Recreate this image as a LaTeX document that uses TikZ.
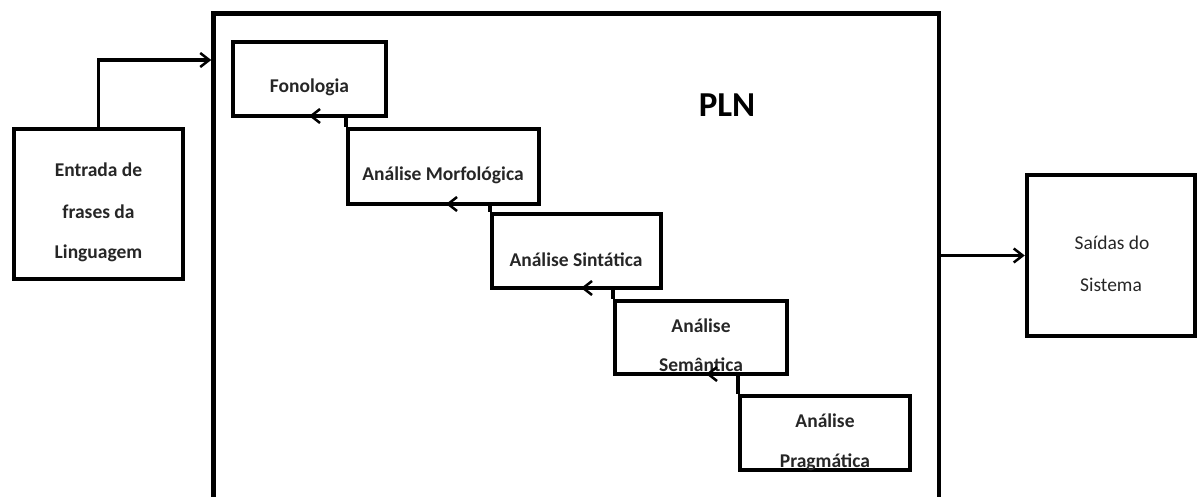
\documentclass[tikz,border=0pt]{standalone}
\usepackage{fontspec}
\setmainfont{Carlito}
\usetikzlibrary{arrows.meta}
\begin{document}
\begin{tikzpicture}[x=1pt,y=-1pt,
  box/.style={draw=black,line width=4.5pt,rectangle,inner sep=0pt,line join=miter},
  lbl/.style={anchor=base,inner sep=0pt,font=\bfseries\fontsize{19.5}{23}\selectfont,text=black!85},
  lblr/.style={anchor=base,inner sep=0pt,font=\fontsize{19.5}{23}\selectfont,text=black!85},
  arr/.style={line width=3.5pt,-{Straight Barb[length=9pt,width=14pt,line width=2.5pt]}}]
\useasboundingbox (0,0) rectangle (1198,497);
\clip (0,0) rectangle (1198,497);
% main PLN frame (open at bottom)
\node[box,minimum width=725.5pt,minimum height=526.5pt] (pln) at (576.25,276.75) {};
\node[anchor=base,inner sep=0pt,font=\bfseries\fontsize{35}{40}\selectfont] (plnT) at (727,117) {PLN};
% boxes
\node[box,minimum width=169pt,minimum height=150pt] (ent) at (98.5,204) {};
\node[box,minimum width=153pt,minimum height=74pt] (fon) at (309.5,79) {};
\node[box,minimum width=191pt,minimum height=75pt] (mor) at (443.5,166.5) {};
\node[box,minimum width=169pt,minimum height=74pt] (sin) at (576.5,251) {};
\node[box,minimum width=172pt,minimum height=73pt] (sem) at (701,337.5) {};
\node[box,minimum width=170pt,minimum height=74pt] (pra) at (825,433) {};
\node[box,minimum width=168pt,minimum height=161pt] (sai) at (1111,255.5) {};
% texts
\node[lbl] (entA) at (98.5,177) {Entrada de};
\node[lbl] (entB) at (98.5,218) {frases da};
\node[lbl] (entC) at (98.5,258) {Linguagem};
\node[lbl] (fonT) at (309.5,93) {Fonologia};
\node[lbl] (morT) at (443,180) {Análise Morfológica};
\node[lbl] (sinT) at (576,266) {Análise Sintática};
\node[lbl] (semA) at (701,332) {Análise};
\node[lbl] (semB) at (701,371) {Semântica};
\node[lbl] (praA) at (825,427) {Análise};
\node[lbl] (praB) at (825,467) {Pragmática};
\node[lblr] (saiA) at (1112,249) {Saídas do};
\node[lblr] (saiB) at (1111,291) {Sistema};
% connectors
\coordinate (inY) at (0,60);
\draw[arr] (ent.north) -- (ent.north |- inY) -- (pln.west |- inY);
\draw[arr] (pln.east |- sai.west) -- (sai.west);
\coordinate (t1) at (309,116);
\coordinate (t2) at (446,204);
\coordinate (t3) at (581,288);
\coordinate (t4) at (706,374);
\draw[arr] (mor.north west) |- (t1);
\draw[arr] (sin.north west) |- (t2);
\draw[arr] (sem.north west) |- (t3);
\draw[arr] (pra.north west) |- (t4);
\end{tikzpicture}
\end{document}
